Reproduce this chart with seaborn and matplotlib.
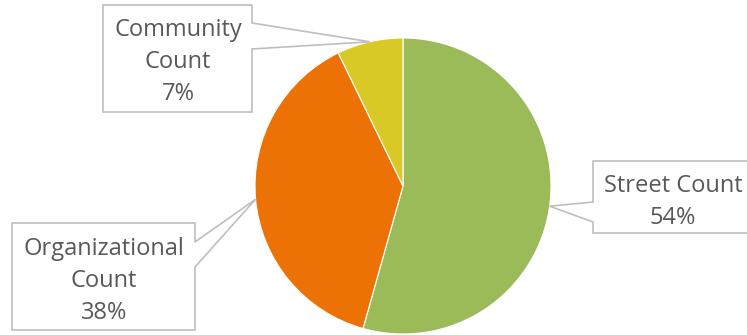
import numpy as np
import matplotlib
matplotlib.use("Agg")
import matplotlib.pyplot as plt
import seaborn as sns
from matplotlib.patches import Polygon

sns.set_theme(style="white")
plt.rcParams['font.family'] = ['Open Sans', 'DejaVu Sans']

categories = ["Street Count", "Organizational Count", "Community Count"]
values = [54.3, 38.4, 7.2]
colors = ["#9BBB59", "#EC7205", "#D8C927"]
label_lines = [["Street Count"], ["Organizational", "Count"], ["Community", "Count"]]

W, H = 747, 335
fig = plt.figure(figsize=(W / 100, H / 100), dpi=100)
ax = fig.add_axes([0, 0, 1, 1])

def fy(py):
    return H - py

cx, cy, r = 403, 186, 148
wedges, _ = ax.pie(values, colors=colors, startangle=90, counterclock=False,
                   center=(cx, fy(cy)), radius=r, frame=True,
                   wedgeprops=dict(edgecolor="white", linewidth=0.8))
ax.set_xlim(0, W)
ax.set_ylim(0, H)
ax.set_aspect("equal")
ax.axis("off")

total = sum(values)
pcts = [f"{v / total * 100:.0f}%" for v in values]

boxes = [
    dict(l=593, t=161, rr=760, b=233, side="left", y1=202, y2=222, tx=673, base=192),
    dict(l=12, t=223, rr=195, b=330, side="right", y1=242, y2=267, tx=104, base=255),
    dict(l=103, t=5, rr=252, b=112, side="right", y1=23, y2=49, tx=178, base=36),
]

for w, bx, lines, pct in zip(wedges, boxes, label_lines, pcts):
    mid = np.deg2rad((w.theta1 + w.theta2) / 2)
    tipx = cx + r * np.cos(mid)
    tipy = fy(cy) + r * np.sin(mid)
    l, t, rr, b = bx["l"], bx["t"], bx["rr"], bx["b"]
    if bx["side"] == "left":
        pts = [(l, t), (rr, t), (rr, b), (l, b), (l, bx["y2"]), None, (l, bx["y1"])]
    else:
        pts = [(l, t), (rr, t), (rr, bx["y1"]), None, (rr, bx["y2"]), (rr, b), (l, b)]
    verts = []
    for p in pts:
        if p is None:
            verts.append((tipx, tipy))
        else:
            verts.append((p[0], fy(p[1])))
    ax.add_patch(Polygon(verts, closed=True, facecolor="white", edgecolor="#BFBFBF",
                         linewidth=1.2, zorder=3))
    all_lines = lines + [pct]
    for i, txt in enumerate(all_lines):
        ax.text(bx["tx"], fy(bx["base"] + 32 * i), txt, ha="center", va="baseline",
                fontsize=17, color="#595959", zorder=4)

fig.savefig("out.png", dpi=100, facecolor="white")
